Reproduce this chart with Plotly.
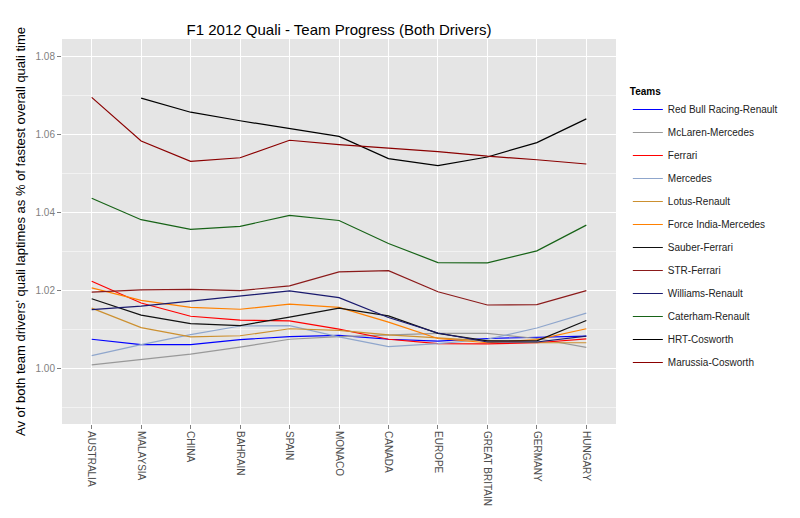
import plotly.graph_objects as go

races = ["AUSTRALIA", "MALAYSIA", "CHINA", "BAHRAIN", "SPAIN", "MONACO",
         "CANADA", "EUROPE", "GREAT BRITAIN", "GERMANY", "HUNGARY"]

teams = ["Red Bull Racing-Renault", "McLaren-Mercedes", "Ferrari", "Mercedes",
         "Lotus-Renault", "Force India-Mercedes", "Sauber-Ferrari", "STR-Ferrari",
         "Williams-Renault", "Caterham-Renault", "HRT-Cosworth", "Marussia-Cosworth"]

red_bull = [1.0074, 1.0060, 1.0060, 1.0073, 1.0081, 1.0084, 1.0074, 1.0069, 1.0076, 1.0079, 1.0082]
mclaren = [1.0008, 1.0022, 1.0036, 1.0054, 1.0074, 1.0081, 1.0085, 1.0089, 1.0089, 1.0076, 1.0053]
ferrari = [1.0223, 1.0167, 1.0133, 1.0123, 1.0121, 1.0100, 1.0074, 1.0063, 1.0062, 1.0065, 1.0075]
mercedes = [1.0032, 1.0060, 1.0086, 1.0108, 1.0109, 1.0080, 1.0055, 1.0063, 1.0074, 1.0103, 1.0141]
lotus = [1.0154, 1.0104, 1.0080, 1.0083, 1.0101, 1.0097, 1.0085, 1.0078, 1.0070, 1.0065, 1.0065]
force_india = [1.0206, 1.0174, 1.0156, 1.0151, 1.0164, 1.0156, 1.0118, 1.0076, 1.0065, 1.0073, 1.0101]
sauber = [1.0178, 1.0136, 1.0114, 1.0109, 1.0131, 1.0154, 1.0134, 1.0089, 1.0070, 1.0070, 1.0122]
str_ferrari = [1.0195, 1.0201, 1.0202, 1.0199, 1.0211, 1.0247, 1.0250, 1.0196, 1.0162, 1.0163, 1.0199]
williams = [1.0150, 1.0159, 1.0172, 1.0185, 1.0198, 1.0181, 1.0130, 1.0090, 1.0067, 1.0067, 1.0082]
caterham = [1.0436, 1.0381, 1.0356, 1.0364, 1.0392, 1.0379, 1.0320, 1.0271, 1.0270, 1.0301, 1.0367]
hrt = [None, 1.0693, 1.0657, 1.0635, 1.0615, 1.0595, 1.0538, 1.0520, 1.0542, 1.0579, 1.0640]
marussia = [1.0695, 1.0583, 1.0531, 1.0540, 1.0585, 1.0574, 1.0565, 1.0556, 1.0544, 1.0535, 1.0524]

series = [red_bull, mclaren, ferrari, mercedes, lotus, force_india, sauber,
          str_ferrari, williams, caterham, hrt, marussia]

colors = ["#0000FF", "#999999", "#FF0000", "#8FA6CC", "#CC9030", "#FF8000",
          "#111111", "#8B1A1A", "#1A1A6E", "#176317", "#000000", "#8B0000"]

font_family = "Liberation Sans, Arial, sans-serif"

W, H = 792, 510  # page has an 8px body margin

fig = go.Figure()
for name, vals, col in zip(teams, series, colors):
    fig.add_trace(go.Scatter(
        x=races, y=vals, mode="lines", name=name, legendgroup=name,
        line=dict(color=col, width=1.2), connectgaps=False,
    ))

fig.update_layout(
    width=W, height=H,
    margin=dict(l=46, r=184, t=31, b=94),
    paper_bgcolor="white",
    plot_bgcolor="#E5E5E5",
    font=dict(family=font_family, color="black"),
    title=dict(text="F1 2012 Quali - Team Progress (Both Drivers)",
               x=0.5, xref="paper", xanchor="center",
               y=1 - 22 / H, yref="container", yanchor="middle",
               font=dict(size=15, color="black")),
    legend=dict(
        title=dict(text="<b>Teams</b>", font=dict(size=10, color="black")),
        x=(628 - 54) / 562, xref="paper", xanchor="left",
        y=(424 - 82) / 385, yref="paper", yanchor="top",
        font=dict(size=10, color="#222222"),
        tracegroupgap=4,
        itemwidth=30,
        bgcolor="rgba(0,0,0,0)",
    ),
    showlegend=True,
)

fig.update_xaxes(
    type="category", range=[-0.6, 10.6],
    showgrid=True, gridcolor="white", gridwidth=1,
    zeroline=False, showline=False,
    ticks="outside", ticklen=4, tickcolor="#7F7F7F",
    tickangle=90, tickfont=dict(size=10, color="#4D4D4D"),
)

fig.update_yaxes(
    range=[0.98564, 1.0845],
    tickvals=[1.00, 1.02, 1.04, 1.06, 1.08],
    ticktext=["1.00", "1.02", "1.04", "1.06", "1.08"],
    showgrid=True, gridcolor="white", gridwidth=1,
    minor=dict(tickvals=[0.99, 1.01, 1.03, 1.05, 1.07], showgrid=True,
               gridcolor="#F2F2F2", gridwidth=0.6, ticks=""),
    zeroline=False, showline=False,
    ticks="outside", ticklen=4, tickcolor="#7F7F7F",
    tickfont=dict(size=10, color="#7F7F7F"),
    title=dict(text="Av of both team drivers' quali laptimes as % of fastest overall quali time",
               font=dict(size=13, color="black"), standoff=6),
)

fig.write_html("out.html")
